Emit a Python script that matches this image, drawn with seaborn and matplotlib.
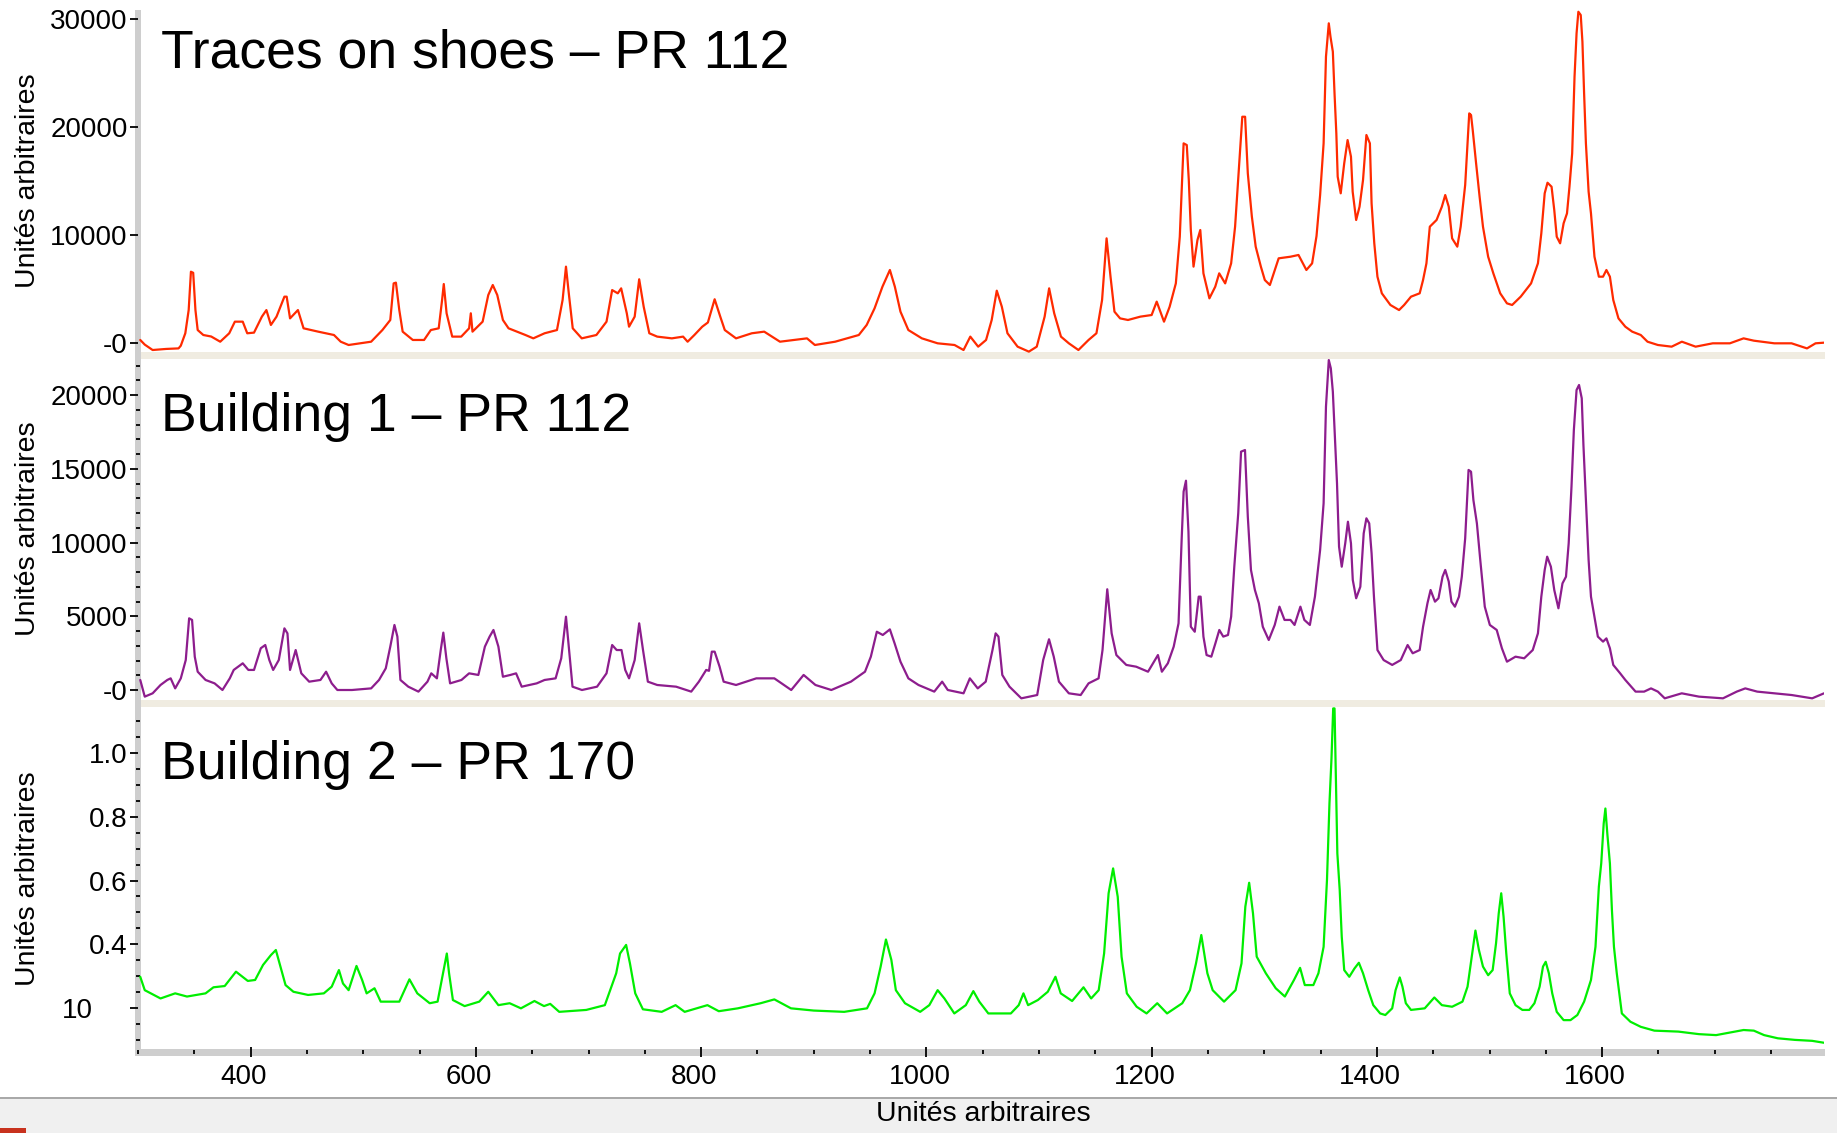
import matplotlib
matplotlib.use("Agg")
import matplotlib.pyplot as plt
from matplotlib.patches import Rectangle
from matplotlib.ticker import MultipleLocator, FixedLocator, FixedFormatter
from matplotlib.transforms import ScaledTranslation
import pandas as pd
import seaborn as sns

# ---------------------------------------------------------------- data
# Raman shift (x) and intensity (y) of the three spectra
shoes_x = [302, 306, 313, 325, 336, 338, 342, 345, 347, 349, 351, 353, 358, 365, 373, 381, 386, 393,
           397, 403, 410, 414, 418, 423, 430, 432, 435, 442, 447, 460, 474, 480, 487, 497, 507, 517,
           524, 527, 529, 532, 535, 544, 554, 560, 567, 570, 571.5, 574, 579, 587, 594, 595.5, 597,
           606, 611, 615, 619, 624, 629, 644, 651, 661, 672, 677, 680, 682.5, 686, 694, 707, 716, 721,
           726, 729, 734, 736, 741, 745, 749, 754, 761, 774, 784, 788, 794, 801, 806, 812, 817, 821,
           831, 845, 856, 870, 894, 901, 919, 940, 947, 954, 961, 967.6, 972, 977, 984, 996, 1010,
           1025, 1033, 1039, 1046, 1053, 1058, 1062.5, 1067, 1072, 1081, 1091, 1098, 1105, 1109,
           1113.5, 1119.5, 1126.5, 1135, 1144, 1151, 1156, 1160, 1163.5, 1167, 1172, 1179, 1190, 1200,
           1204.5, 1211, 1216, 1221.5, 1225, 1226.7, 1228.4, 1231.2, 1233, 1234.8, 1237.2, 1240.7,
           1243.2, 1246, 1251.3, 1256.5, 1260, 1265.3, 1270.6, 1274.1, 1277.6, 1280.5, 1283, 1285.4,
           1289, 1292.4, 1297, 1300.5, 1305, 1312.8, 1323.3, 1330.4, 1337.4, 1342.5, 1346.4, 1349.6,
           1352.7, 1354.8, 1357.3, 1358.8, 1360.9, 1362.4, 1364, 1365.2, 1367.9, 1371, 1374, 1377,
           1378.5, 1381.6, 1384.6, 1387.7, 1390.7, 1393.8, 1395.3, 1397.7, 1400.5, 1404.4, 1412,
           1419.7, 1424.2, 1430.3, 1438, 1441, 1444, 1447, 1453, 1457.7, 1460.7, 1463.8, 1466.8,
           1471.4, 1474.4, 1478.4, 1482, 1483.6, 1485.1, 1488.1, 1491.2, 1494.2, 1498.8, 1503.4,
           1509.5, 1515.5, 1520.1, 1527.7, 1536.9, 1543, 1546, 1549, 1551.5, 1555.1, 1557.5, 1559.7,
           1562.7, 1565.8, 1568.8, 1571, 1573.4, 1575.5, 1577.3, 1578.9, 1581, 1582.5, 1584, 1585.6,
           1588, 1590.1, 1593.2, 1597.1, 1600.8, 1603.8, 1606.9, 1609.9, 1614.5, 1620.6, 1626.7,
           1634.3, 1640.3, 1649.5, 1661.7, 1670.8, 1683, 1698.2, 1713.4, 1725.6, 1734.7, 1752.9,
           1768.2, 1781.9, 1789.5, 1797]
shoes_y = [280, -150, -650, -550, -500, -250, 900, 3050, 6600, 6500, 3050, 1200, 740, 600, 120, 900,
           1975, 1975, 900, 960, 2440, 3050, 1670, 2440, 4290, 4290, 2280, 3050, 1360, 1050, 740,
           120, -185, -30, 120, 1200, 2130, 5520, 5590, 3050, 1050, 280, 280, 1200, 1360, 3980, 5460,
           2750, 590, 590, 1360, 2750, 1050, 1975, 4440, 5370, 4440, 2130, 1360, 740, 430, 900, 1200,
           3980, 7070, 4600, 1360, 430, 740, 1975, 4900, 4600, 5060, 2750, 1510, 2440, 5900, 3360,
           900, 590, 430, 590, 120, 740, 1510, 1900, 4050, 2440, 1200, 430, 900, 1050, 120, 430,
           -185, 120, 740, 1670, 3210, 5215, 6760, 5215, 2900, 1200, 430, -30, -185, -650, 590, -340,
           280, 2130, 4845, 3360, 900, -340, -800, -340, 2440, 5060, 2750, 590, -30, -650, 280, 900,
           3980, 9690, 6140, 2900, 2280, 2130, 2440, 2590, 3830, 1975, 3360, 5520, 9840, 14160,
           18485, 18330, 15090, 10460, 7070, 9540, 10460, 6450, 4135, 5215, 6450, 5520, 7375, 10770,
           16325, 20950, 20950, 15710, 11700, 8920, 7070, 5830, 5370, 7840, 7990, 8150, 6760, 7375,
           9900, 13700, 18485, 26510, 29600, 28360, 26970, 23110, 19410, 15400, 13860, 16630, 18790,
           17250, 14010, 11390, 12620, 15090, 19260, 18485, 12930, 9230, 6140, 4600, 3520, 3050,
           3520, 4290, 4600, 5830, 7375, 10770, 11390, 12620, 13700, 12620, 9690, 8920, 10770, 14630,
           21260, 21110, 19720, 16630, 13550, 10770, 7990, 6450, 4600, 3670, 3520, 4290, 5520, 7375,
           10150, 13860, 14840, 14470, 12310, 9840, 9230, 11080, 12000, 14470, 17560, 24660, 28670,
           30670, 30370, 27900, 23110, 18485, 14010, 12000, 7990, 6140, 6140, 6760, 6140, 3980, 2280,
           1510, 1050, 740, 120, -185, -340, 120, -340, -30, -30, 430, 215, -30, -30, -500, -30, 30]

bldg1_x = [302, 306, 313, 320, 326, 329, 333, 338, 342.4, 345.4, 348, 350.4, 353, 360, 368, 375,
           381.5, 385, 393, 398, 403, 409, 413, 416.6, 420, 425, 430, 432.7, 435, 440, 445, 452, 462,
           467, 472, 477, 490, 507, 514, 520, 524, 527.7, 530.3, 533, 540, 549, 557, 560.4, 565.4,
           568.8, 571.1, 573.8, 577.1, 587.2, 594, 602.2, 608, 612.2, 615.6, 620, 624, 630.6, 635.7,
           640.7, 654, 661, 670.8, 675.8, 680, 682.5, 685.8, 694.2, 707.6, 716, 721, 725, 729.3,
           732.6, 736, 741, 745, 748.4, 752.7, 761, 777.8, 791.2, 798, 804.5, 807, 809.5, 812, 816.4,
           820, 831, 849, 865, 880, 891, 901.5, 915.6, 933, 945.5, 950.7, 956, 961.3, 967.6, 971.8,
           977, 984, 993, 1007, 1014, 1019, 1033, 1038.6, 1045.6, 1052.7, 1058.7, 1061.5, 1064,
           1067.4, 1073.8, 1084.3, 1098.4, 1103.7, 1108.9, 1113.1, 1117.7, 1126.5, 1137, 1144,
           1152.9, 1156.4, 1160.6, 1164.5, 1168.7, 1177.5, 1186.3, 1196.8, 1205.6, 1209.1, 1214.4,
           1219.6, 1223.9, 1226.7, 1228.4, 1230.5, 1232.7, 1234.8, 1238.3, 1241.8, 1243.5, 1246,
           1248.8, 1253, 1256.6, 1260.1, 1263.6, 1267.8, 1270.6, 1273.4, 1276.9, 1279.4, 1282.9,
           1285.4, 1288.2, 1291.7, 1295.2, 1298.7, 1304, 1309.3, 1313.5, 1318, 1323.3, 1326.9,
           1332.1, 1335.6, 1340.5, 1345, 1349.6, 1352.7, 1354.8, 1357.3, 1359.1, 1360.9, 1362.7,
           1364.6, 1366.4, 1368.8, 1371.9, 1374.3, 1377, 1378.6, 1381.6, 1385.3, 1388.3, 1390.7,
           1393.2, 1395.3, 1397.4, 1400.5, 1406, 1413.6, 1421.2, 1427.3, 1431.8, 1438, 1441, 1444.9,
           1447.7, 1451.6, 1454.7, 1458.3, 1460.7, 1463.8, 1466.2, 1469.3, 1472.9, 1475.4, 1478.4,
           1481.4, 1483.6, 1485.7, 1488.8, 1491.8, 1495.8, 1500.3, 1506.4, 1511, 1515.5, 1523.1,
           1530.8, 1538.4, 1543, 1546, 1549, 1551.2, 1554.5, 1557.5, 1561.2, 1564.8, 1567.9, 1570.3,
           1572.8, 1574.9, 1577.3, 1579.5, 1581.9, 1583.4, 1585.6, 1588, 1590.1, 1593.2, 1596.2,
           1600.8, 1603.8, 1606.9, 1609.9, 1616, 1620.6, 1629.7, 1637.3, 1643.4, 1649.5, 1655.6,
           1670.7, 1686, 1707.3, 1719.5, 1727.1, 1737.7, 1753, 1768.2, 1786.5, 1797]
bldg1_y = [680, -450, -225, 340, 680, 790, 110, 790, 2030, 4860, 4750, 2260, 1240, 680, 450, 0, 790,
           1360, 1810, 1360, 1360, 2830, 3050, 2030, 1360, 2030, 4180, 3840, 1360, 2710, 1130, 565,
           680, 1240, 450, 0, 0, 110, 680, 1470, 2940, 4410, 3620, 680, 225, -110, 565, 1130, 790,
           2710, 3890, 2150, 450, 680, 1130, 1020, 2940, 3620, 4070, 2940, 900, 1020, 1130, 225, 450,
           680, 790, 2150, 4970, 2940, 225, 0, 225, 1130, 3050, 2710, 2710, 1360, 790, 2030, 4520,
           2710, 565, 340, 225, -110, 565, 1360, 1300, 2600, 2600, 1580, 565, 340, 790, 790, 0, 1020,
           340, 0, 565, 1240, 2260, 3950, 3730, 4110, 3160, 1920, 790, 340, -110, 565, 0, -225, 790,
           110, 565, 2710, 3840, 3620, 1020, 225, -565, -340, 2030, 3440, 2260, 565, -225, -340, 450,
           790, 2710, 6830, 3840, 2370, 1700, 1580, 1240, 2370, 1240, 1810, 2940, 4520, 10280,
           13450, 14190, 10740, 4290, 3950, 6330, 6330, 3620, 2370, 2260, 3160, 4070, 3620, 3730,
           4970, 8360, 11980, 16160, 16270, 11750, 8140, 6780, 5880, 4290, 3390, 4410, 5650, 4750,
           4750, 4410, 5650, 4750, 4410, 6330, 9490, 12660, 19210, 22370, 21810, 20230, 17180, 14010,
           9720, 8360, 9940, 11410, 9940, 7460, 6220, 7000, 10620, 11640, 11300, 9270, 6330, 2710,
           2030, 1700, 2030, 3050, 2490, 2710, 4290, 5880, 6780, 5990, 6220, 7680, 8140, 7350, 5990,
           5650, 6330, 7680, 10280, 14920, 14800, 12880, 11300, 8810, 5650, 4410, 4070, 2830, 1920,
           2260, 2150, 2710, 3840, 6330, 8140, 9040, 8360, 6780, 5540, 7230, 7680, 9940, 13790,
           17630, 20340, 20680, 19780, 16610, 12880, 8810, 6330, 4970, 3620, 3280, 3500, 2830, 1700,
           1130, 680, -110, -110, 110, -110, -565, -225, -450, -565, -110, 110, -110, -225, -340,
           -565, -225]

bldg2_x = [302, 306, 320, 333, 343.5, 360, 367, 377, 387, 397.5, 404, 411, 418, 422.4, 426.5, 431,
           438, 451, 465, 472, 478.4, 482, 487, 494, 499, 503, 510, 515.5, 532, 541, 548, 559, 566,
           570.8, 574.2, 576.2, 579.6, 590, 603, 611, 620, 630, 640, 652, 660.5, 666, 674, 698, 714.5,
           724.6, 728, 733.4, 736.8, 741.5, 748.3, 765, 777.3, 785.4, 805.6, 815.7, 832.6, 852.8, 865,
           879.8, 900, 927, 947.3, 954, 959.4, 964.1, 968.9, 972.9, 981, 994.5, 1002.6, 1010, 1016,
           1024.8, 1035, 1041.7, 1047, 1055, 1075, 1082, 1086.2, 1090.3, 1099, 1107.8, 1114.6,
           1119.3, 1129.4, 1139.5, 1146.3, 1153, 1157.8, 1161.8, 1165.8, 1169.9, 1173.3, 1178,
           1186.7, 1195.5, 1205, 1213.7, 1227.2, 1234, 1239.4, 1244.1, 1249.5, 1254.2, 1264.3,
           1274.5, 1279.8, 1283.2, 1286.6, 1290, 1293.3, 1301.4, 1310.2, 1318.3, 1326.4, 1331.8,
           1336, 1343.6, 1348.1, 1352.7, 1355.7, 1357.9, 1359.7, 1361.2, 1362.4, 1363.3, 1364.9,
           1367, 1368.8, 1371, 1375.5, 1380.1, 1384, 1387.7, 1392.3, 1396.8, 1402.9, 1407.5, 1413.6,
           1416.6, 1420.3, 1422.7, 1425.7, 1430.3, 1442.5, 1451, 1457.7, 1466.8, 1476, 1480.5,
           1484.2, 1487.5, 1490.6, 1494.2, 1498.8, 1502.8, 1505.8, 1508.2, 1510.4, 1512.5, 1514.9,
           1518, 1523.1, 1529.2, 1535.3, 1539.9, 1544.5, 1547.5, 1549.9, 1552.7, 1555.7, 1559.7,
           1565.8, 1571.9, 1578, 1584, 1590.1, 1594.1, 1597.1, 1599.2, 1601.4, 1602.9, 1604.7,
           1606.9, 1608.7, 1610.5, 1613, 1617.5, 1625.1, 1634.3, 1646.4, 1667.7, 1686, 1701.2,
           1713.4, 1725.6, 1734.7, 1743.8, 1756, 1771.2, 1786.5, 1797]
bldg2_y = [0.298, 0.256, 0.230, 0.246, 0.236, 0.246, 0.265, 0.269, 0.314, 0.285, 0.288, 0.335, 0.366,
           0.382, 0.330, 0.272, 0.251, 0.241, 0.246, 0.267, 0.319, 0.277, 0.256, 0.332, 0.288, 0.246,
           0.262, 0.220, 0.220, 0.290, 0.246, 0.215, 0.220, 0.309, 0.371, 0.309, 0.225, 0.206, 0.220,
           0.251, 0.209, 0.215, 0.199, 0.222, 0.206, 0.213, 0.188, 0.194, 0.209, 0.309, 0.371, 0.398,
           0.340, 0.246, 0.196, 0.188, 0.209, 0.188, 0.209, 0.190, 0.199, 0.215, 0.227, 0.199, 0.192,
           0.188, 0.199, 0.246, 0.330, 0.415, 0.351, 0.256, 0.215, 0.188, 0.209, 0.256, 0.230, 0.183,
           0.209, 0.253, 0.220, 0.183, 0.183, 0.209, 0.246, 0.209, 0.225, 0.251, 0.298, 0.246, 0.222,
           0.265, 0.230, 0.256, 0.371, 0.560, 0.638, 0.549, 0.361, 0.246, 0.204, 0.183, 0.215, 0.183,
           0.215, 0.256, 0.340, 0.429, 0.309, 0.256, 0.220, 0.256, 0.340, 0.518, 0.593, 0.497, 0.361,
           0.309, 0.262, 0.236, 0.288, 0.326, 0.272, 0.272, 0.309, 0.392, 0.602, 0.842, 0.983, 1.140,
           1.140, 0.973, 0.685, 0.570, 0.424, 0.319, 0.298, 0.324, 0.342, 0.309, 0.256, 0.209, 0.183,
           0.178, 0.199, 0.256, 0.296, 0.267, 0.215, 0.194, 0.199, 0.233, 0.209, 0.204, 0.220, 0.267,
           0.361, 0.443, 0.382, 0.330, 0.303, 0.319, 0.403, 0.497, 0.560, 0.486, 0.371, 0.246, 0.209,
           0.194, 0.194, 0.215, 0.267, 0.330, 0.345, 0.309, 0.246, 0.188, 0.162, 0.162, 0.178, 0.220,
           0.288, 0.392, 0.581, 0.654, 0.779, 0.826, 0.743, 0.654, 0.507, 0.392, 0.309, 0.183, 0.157,
           0.141, 0.129, 0.126, 0.118, 0.115, 0.123, 0.131, 0.129, 0.115, 0.105, 0.100, 0.097, 0.091]

panel_titles = ["Traces on shoes \u2013 PR 112", "Building 1 \u2013 PR 112", "Building 2 \u2013 PR 170"]
axis_label = "Unités arbitraires"
x_ticks = [400, 600, 800, 1000, 1200, 1400, 1600]
y_ticks_shoes = [0, 10000, 20000, 30000]
y_labels_shoes = ["-0", "10000", "20000", "30000"]
y_ticks_b1 = [0, 5000, 10000, 15000, 20000]
y_labels_b1 = ["-0", "5000", "10000", "15000", "20000"]
y_ticks_b2 = [0.2, 0.4, 0.6, 0.8, 1.0]
y_labels_b2 = ["10", "0.4", "0.6", "0.8", "1.0"]

# ---------------------------------------------------------------- figure
sns.set_style("white")
plt.rcParams['font.family'] = ['Liberation Sans', 'DejaVu Sans']
plt.rcParams.update({'text.color': 'black', 'axes.labelcolor': 'black',
                     'xtick.color': 'black', 'ytick.color': 'black',
                     'xtick.labelcolor': 'black', 'ytick.labelcolor': 'black'})

W, H, DPI = 1837, 1133, 100
fig = plt.figure(figsize=(W / DPI, H / DPI), dpi=DPI)
fig.patch.set_facecolor('white')


def add_px_axes(left, top, right, bottom):
    return fig.add_axes([left / W, 1 - bottom / H, (right - left) / W, (bottom - top) / H])


def band(x0, y0, x1, y1, color, z=-1):
    fig.add_artist(Rectangle((x0 / W, 1 - y1 / H), (x1 - x0) / W, (y1 - y0) / H,
                             transform=fig.transFigure, facecolor=color,
                             edgecolor='none', zorder=z))


# window chrome: status strip, axis bars, panel separators
band(0, 1098, W, H, '#f0f0f0')
band(0, 1096.5, W, 1098.5, '#a9a9a9')
band(0, 1128, 26, H, '#c8321e')
band(135, 10, 141, 1056, '#cecece')
band(135, 1048.5, 1825, 1055.5, '#cecece')
band(141, 352.5, 1825, 358.5, '#f0ece1')
band(141, 700, 1825, 706.5, '#f0ece1')

ax1 = add_px_axes(138, 10, 1824, 352.5)
ax2 = add_px_axes(138, 358.5, 1824, 700)
ax3 = add_px_axes(138, 706.5, 1824, 1052)

series = [
    (ax1, shoes_x, shoes_y, '#ff2a00', (-880, 30833), y_ticks_shoes, y_labels_shoes, None),
    (ax2, bldg1_x, bldg1_y, '#8d1d8d', (-678, 22476), y_ticks_b1, y_labels_b1, 1000),
    (ax3, bldg2_x, bldg2_y, '#00ee00', (0.062, 1.146), y_ticks_b2, y_labels_b2, 0.05),
]

for ax, xs, ys, col, ylim, yt, yl, minor in series:
    df = pd.DataFrame({'shift': xs, 'intensity': ys})
    sns.lineplot(data=df, x='shift', y='intensity', ax=ax, color=col, linewidth=1.6,
                 estimator=None, sort=False)
    ax.set_facecolor('none')
    for sp in ax.spines.values():
        sp.set_visible(False)
    ax.set_xlim(300, 1797)
    ax.set_ylim(*ylim)
    ax.set_xlabel('')
    ax.set_ylabel('')
    ax.yaxis.set_major_locator(FixedLocator(yt))
    ax.yaxis.set_major_formatter(FixedFormatter(yl))
    if minor:
        ax.yaxis.set_minor_locator(MultipleLocator(minor))
    ax.tick_params(axis='y', which='major', direction='out', length=6, width=1.3,
                   color='black', labelcolor='black', labelsize=20, pad=1.5, left=True)
    ax.tick_params(axis='y', which='minor', direction='inout', length=3.5, width=1.3,
                   color='black', left=True)
    ax.grid(False)

for ax in (ax1, ax2):
    ax.tick_params(axis='x', which='both', bottom=False, labelbottom=False)

ax3.xaxis.set_major_locator(FixedLocator(x_ticks))
ax3.xaxis.set_minor_locator(MultipleLocator(50))
ax3.tick_params(axis='x', which='major', direction='inout', length=7, width=1.3,
                color='black', labelcolor='black', labelsize=20, pad=5, bottom=True)
ax3.tick_params(axis='x', which='minor', direction='inout', length=3.5, width=1.3,
                color='black', bottom=True)
shift_left = ScaledTranslation(-7 / DPI, 0, fig.dpi_scale_trans)
for lab in ax3.get_xticklabels():
    lab.set_transform(lab.get_transform() + shift_left)
# the lowest label of the bottom panel sits further out
lab0 = ax3.get_yticklabels()[0]
lab0.set_transform(lab0.get_transform() + ScaledTranslation(-35 / DPI, 0, fig.dpi_scale_trans))

# panel titles
for title, base in zip(panel_titles, [68, 430.7, 779.3]):
    fig.text(161 / W, 1 - base / H, title, fontsize=38.5, color='black',
             va='baseline', ha='left')

# axis labels
for yc in [181, 529, 879]:
    fig.text(28 / W, 1 - yc / H, axis_label, rotation=90, fontsize=20.5, color='black',
             ha='center', va='center')
fig.text(983 / W, 1 - 1114 / H, axis_label, fontsize=20.5, color='black',
         ha='center', va='center')

fig.savefig('out.png', dpi=DPI, facecolor=fig.get_facecolor())
